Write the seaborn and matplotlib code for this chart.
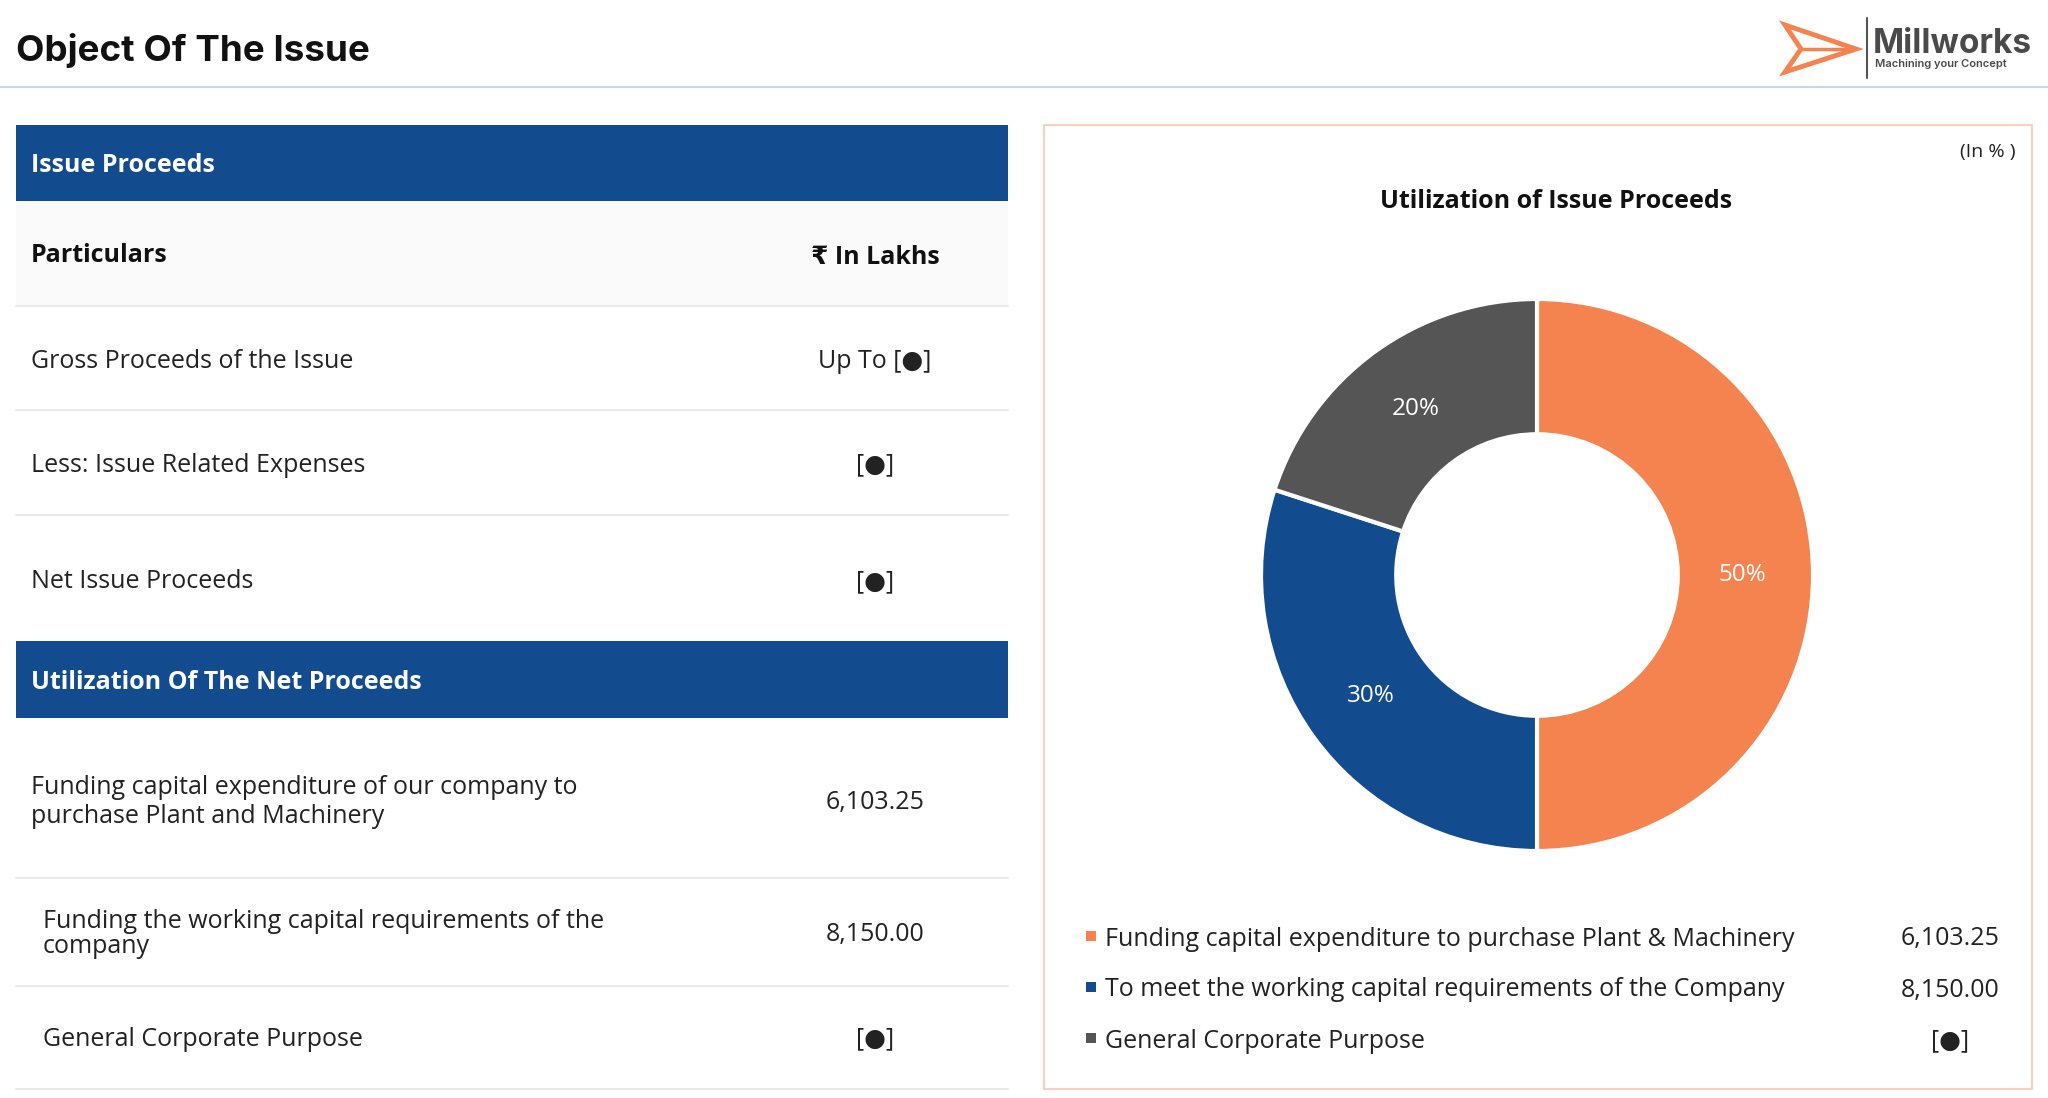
import numpy as np
import matplotlib
matplotlib.use('Agg')
import matplotlib.pyplot as plt
from matplotlib.patches import Rectangle, Polygon
import seaborn as sns
sns.set_theme(style='white')
plt.rcParams['font.family'] = ['Open Sans', 'DejaVu Sans']

# ---- data ----
DOT = '[\u25cf]'
page_title = 'Object Of The Issue'
unit_label = '\u20b9 In Lakhs'
issue_rows = ['Gross Proceeds of the Issue', 'Less: Issue Related Expenses', 'Net Issue Proceeds']
issue_vals = ['Up To ' + DOT, DOT, DOT]
use_rows = ['Funding capital expenditure of our company to\npurchase Plant and Machinery',
            'Funding the working capital requirements of the\ncompany',
            'General Corporate Purpose']
use_vals = ['6,103.25', '8,150.00', DOT]

pie_title = 'Utilization of Issue Proceeds'
pie_labels = ['Funding capital expenditure to purchase Plant & Machinery',
              'To meet the working capital requirements of the Company',
              'General Corporate Purpose']
pie_pct = [50, 30, 20]
pie_amounts = ['6,103.25', '8,150.00', DOT]
pie_colors = ['#F4834F', '#124C8E', '#555555']

BLUE = '#124C8E'
GRID = '#E9E9E9'
TITLE_FONT = ['Inter', 'DejaVu Sans']

W, H = 2048, 1098
DY = 3  # baseline nudge for Open Sans
fig = plt.figure(figsize=(W / 100, H / 100), dpi=100)
fig.patch.set_facecolor('white')
ax = fig.add_axes([0, 0, 1, 1])
ax.set_xlim(0, W)
ax.set_ylim(H, 0)
ax.axis('off')

# header
ax.text(16, 51, page_title, fontsize=26.5, fontweight='bold', family=TITLE_FONT,
        va='center', ha='left', color='#111111')
ax.plot([0, W], [87, 87], color='#C8D5E5', lw=1.5)

# logo
arrow = Polygon([(1785, 25), (1856, 49), (1785, 72), (1801, 49)], closed=True,
                fill=False, edgecolor='#F4834F', lw=3.5, joinstyle='miter')
ax.add_patch(arrow)
ax.plot([1801, 1850], [49, 49], color='#F4834F', lw=2.5)
ax.plot([1867, 1867], [18, 78], color='#555555', lw=1.5)
ax.text(1873, 44, 'Millworks', fontsize=24, fontweight='bold', color='#4A4A4A',
        va='center', ha='left', family=TITLE_FONT)
ax.text(1875, 64, 'Machining your Concept', fontsize=8, color='#4A4A4A',
        va='center', ha='left', fontweight='semibold', family=TITLE_FONT)

# left table
TX0, TX1 = 16, 1008
VX = 875
FS = 18

def band(y0, y1, label):
    ax.add_patch(Rectangle((TX0, y0), TX1 - TX0, y1 - y0, color=BLUE, lw=0))
    ax.text(31, (y0 + y1) / 2 + DY, label, color='white', fontsize=FS, fontweight='bold',
            va='center', ha='left')

band(125, 201, 'Issue Proceeds')
ax.add_patch(Rectangle((TX0, 201), TX1 - TX0, 105, color='#FAFAFA', lw=0))
ax.text(31, 253 + DY, 'Particulars', fontsize=FS, fontweight='bold', va='center', color='#111111')
ax.text(VX, 254 + DY, unit_label, fontsize=FS, fontweight='bold', va='center', ha='center',
        color='#111111')

issue_y = [358, 462, 579]
for yl in [306, 410, 515]:
    ax.plot([TX0, TX1], [yl, yl], color=GRID, lw=1.5)
for y, lab, val in zip(issue_y, issue_rows, issue_vals):
    ax.text(31, y + DY, lab, fontsize=FS, va='center', color='#222222')
    ax.text(VX, y + DY, val, fontsize=FS, va='center', ha='center', color='#222222')

band(641, 718, 'Utilization Of The Net Proceeds')
use_y = [799, 931, 1036]
use_x = [31, 43, 43]
use_ls = [1.25, 1.0, 1.0]
for yl in [878, 986, 1089]:
    ax.plot([TX0, TX1], [yl, yl], color=GRID, lw=1.5)
for y, x, ls, lab, val in zip(use_y, use_x, use_ls, use_rows, use_vals):
    ax.text(x, y + DY, lab, fontsize=FS, va='center', color='#222222', linespacing=ls)
    ax.text(VX, y + DY, val, fontsize=FS, va='center', ha='center', color='#222222')

# right panel
ax.add_patch(Rectangle((1044, 125), 988, 964, fill=False, edgecolor='#F8D0BE', lw=1.5))
ax.text(2015, 149 + DY, '(In % )', fontsize=14, va='center', ha='right', color='#222222')
ax.text(1556, 199 + DY, pie_title, fontsize=18, fontweight='bold', va='center', ha='center',
        color='#111111')

cx, cy, r = 1537, 575, 276
pax = fig.add_axes([(cx - r) / W, (H - cy - r) / H, 2 * r / W, 2 * r / H])
wedges, _, autotexts = pax.pie(pie_pct, colors=pie_colors, startangle=90, counterclock=False,
                               autopct='%d%%', pctdistance=0.745, radius=1,
                               wedgeprops=dict(width=0.49, edgecolor='white', linewidth=3))
for t in autotexts:
    t.set_color('white')
    t.set_fontsize(17.5)
pax.set_xlim(-1, 1)
pax.set_ylim(-1, 1)
pax.axis('off')

leg_y = [936, 987, 1038]
for y, lab, amt, c in zip(leg_y, pie_labels, pie_amounts, pie_colors):
    ax.add_patch(Rectangle((1086, y - 5), 10, 10, color=c, lw=0))
    ax.text(1105, y + DY, lab, fontsize=FS, va='center', ha='left', color='#222222')
    ax.text(1950, y + DY, amt, fontsize=FS, va='center', ha='center', color='#222222')

fig.savefig('out.png', dpi=100, facecolor='white')
